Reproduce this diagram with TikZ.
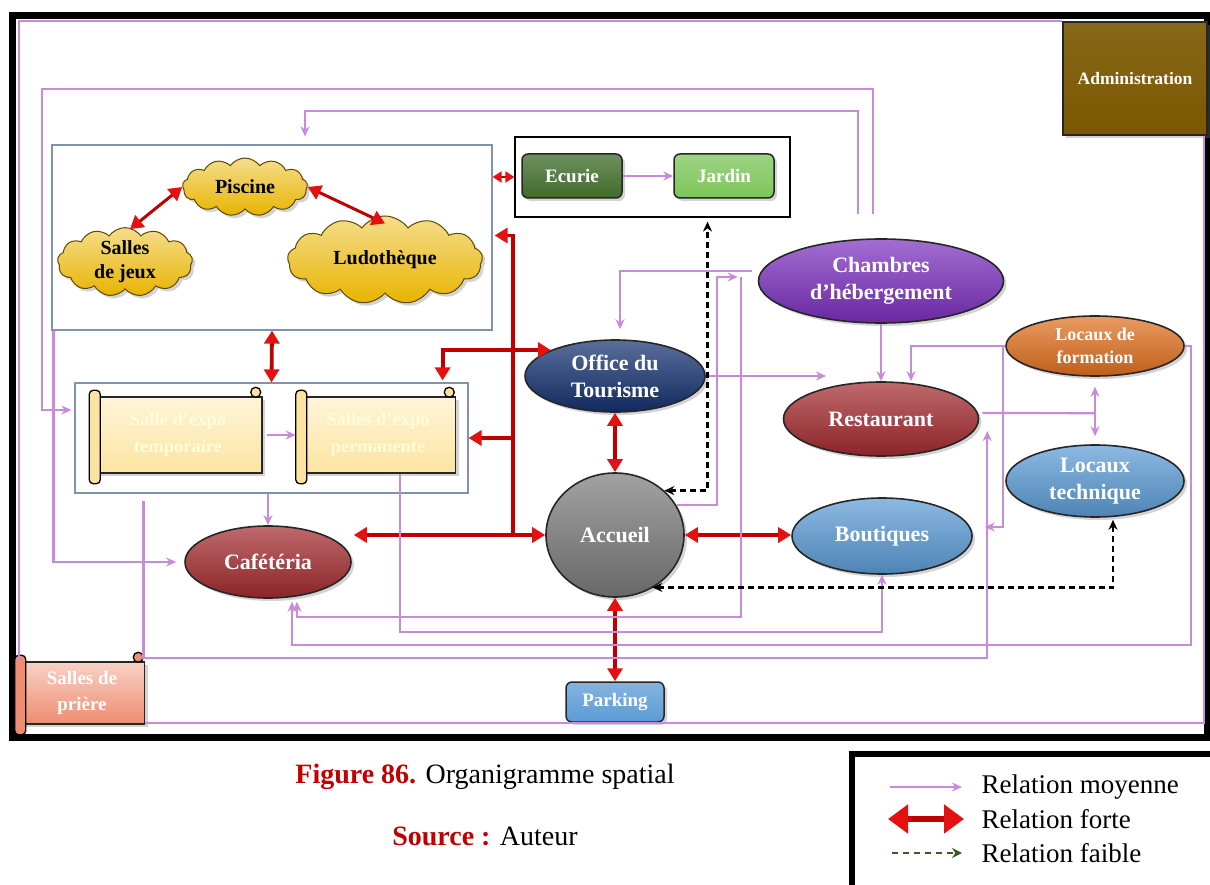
\documentclass[tikz,border=0pt]{standalone}
\usepackage{fontspec}
\setmainfont{Liberation Serif}
\usetikzlibrary{positioning,arrows.meta,calc,shapes.geometric,shapes.symbols,shadows}

\definecolor{moyc}{HTML}{C98BD9}
\definecolor{fortc}{HTML}{C00000}
\definecolor{flech}{HTML}{E51010}
\definecolor{grpc}{HTML}{7F93AD}
\definecolor{adminc}{HTML}{7A5700}
\definecolor{ecuriec}{HTML}{3E6B2A}
\definecolor{jardinc}{HTML}{7DC55A}
\definecolor{officec}{HTML}{13306F}
\definecolor{accueilc}{HTML}{7A7A7A}
\definecolor{rougec}{HTML}{A32A2E}
\definecolor{chambrec}{HTML}{7B2FBE}
\definecolor{orangec}{HTML}{E0701E}
\definecolor{bleuc}{HTML}{5B9BD5}
\definecolor{expoc}{HTML}{FCE4A0}
\definecolor{prierec}{HTML}{EE8C70}
\definecolor{nuagec}{HTML}{E8B400}
\definecolor{titrec}{HTML}{C00000}
\definecolor{faiblec}{HTML}{3A5A28}

\tikzset{
  moy/.style={draw=moyc, line width=2.2pt, -{Stealth[length=10pt,width=9pt]}},
  lien/.style={draw=moyc, line width=2.2pt},
  frt/.style={draw=fortc, line width=3.8pt, {Triangle[length=13pt,width=15pt,color=flech]}-{Triangle[length=13pt,width=15pt,color=flech]}},
  frtun/.style={draw=fortc, line width=3.8pt, -{Triangle[length=13pt,width=15pt,color=flech]}},
  fbl/.style={draw=black, line width=2.4pt, dash pattern=on 6pt off 4pt, {Stealth[length=10pt,width=9pt]}-{Stealth[length=10pt,width=9pt]}},
  grp/.style={draw=grpc, line width=1.2pt},
  ell/.style={ellipse, draw=black!85, line width=1.6pt, inner sep=0pt, align=center, text=white,
    font=\bfseries\fontsize{22}{27}\selectfont, top color=#1!70!white, bottom color=#1!85!black,
    drop shadow={opacity=0.35, shadow xshift=3pt, shadow yshift=-3pt}},
  btn/.style={rectangle, rounded corners=6pt, draw=black!85, line width=1.5pt, text=white,
    top color=#1!75!white, bottom color=#1, font=\bfseries\fontsize{19}{20}\selectfont,
    drop shadow={opacity=0.35, shadow xshift=3pt, shadow yshift=-3pt}},
  nua/.style={cloud, cloud puffs=13, cloud puff arc=110, cloud ignores aspect, draw=black!60!nuagec, line width=1pt,
    top color=nuagec!45!white, bottom color=nuagec, inner sep=0pt, align=center,
    font=\bfseries\fontsize{20}{24}\selectfont, drop shadow={opacity=0.35, shadow xshift=3pt, shadow yshift=-3pt}},
  scr/.style={rectangle, draw=black!85, line width=1.5pt, top color=#1!40!white, bottom color=#1,
    align=center, text=white!85!yellow, font=\bfseries\fontsize{18.5}{27}\selectfont,
    drop shadow={opacity=0.35, shadow xshift=3pt, shadow yshift=-3pt}},
  leg/.style={anchor=west, font=\fontsize{27}{29}\selectfont},
}

\begin{document}
\begin{tikzpicture}[x=1pt,y=-1pt]
  \useasboundingbox (0,0) rectangle (1210,885);
  % cadre
  \draw[line width=7pt] (12,15.5) rectangle (1207,737.5);

  % groupes
  \node[grp, minimum width=440pt, minimum height=185pt] (loisirs) at (272,237.5) {};
  \node[grp, draw=black, minimum width=275pt, minimum height=80pt] (eq) at (652.5,177) {};
  \node[grp, minimum width=393pt, minimum height=110pt] (expo) at (271.5,438) {};

  % loisirs
  \node[nua, minimum width=125pt, minimum height=58pt] (piscine) at (245,187) {Piscine};
  \node[nua, minimum width=135pt, minimum height=62pt] (jeux) at (125,262) {Salles\\de jeux};
  \node[nua, minimum width=195pt, minimum height=88pt] (ludo) at (385,260) {Ludothèque};

  % equitation
  \node[btn=ecuriec, minimum width=100pt, minimum height=44pt] (ecurie) at (572,176) {Ecurie};
  \node[btn=jardinc, minimum width=100pt, minimum height=44pt] (jardin) at (724,176) {Jardin};

  % administration, parking
  \node[btn=adminc, rounded corners=0pt, top color=adminc!90!white, minimum width=144pt, minimum height=113pt,
    font=\bfseries\fontsize{17.5}{19}\selectfont] (admin) at (1135,78.5) {Administration};
  \node[btn=bleuc, minimum width=98pt, minimum height=40pt] (parking) at (615,702) {Parking};

  % espaces
  \node[ell=officec, minimum width=180pt, minimum height=72pt] (office) at (615,376) {Office du\\Tourisme};
  \node[ell=accueilc, minimum width=138pt, minimum height=124pt] (accueil) at (615,535) {Accueil};
  \node[ell=rougec, minimum width=166pt, minimum height=72pt] (cafe) at (268,562) {Cafétéria};
  \node[ell=chambrec, minimum width=245pt, minimum height=84pt] (chambres) at (881,281) {Chambres\\d’hébergement};
  \node[ell=rougec, minimum width=195pt, minimum height=74pt] (restaurant) at (881,419) {Restaurant};
  \node[ell=orangec, minimum width=178pt, minimum height=60pt, font=\bfseries\fontsize{18}{23}\selectfont] (formation) at (1095,346) {Locaux de\\formation};
  \node[ell=bleuc, minimum width=178pt, minimum height=72pt] (technique) at (1095,481) {Locaux\\technique};
  \node[ell=bleuc, minimum width=180pt, minimum height=76pt] (boutiques) at (882,536) {Boutiques};

  % rouleaux
  \node[scr=expoc, minimum width=168pt, minimum height=76pt] (temp) at (178,435) {Salle d’expo\\temporaire};
  \node[scr=expoc, minimum width=155pt, minimum height=76pt] (perm) at (378,435) {Salles d’expo\\permanente};
  \node[scr=prierec, text=white, minimum width=125pt, minimum height=62pt, font=\bfseries\fontsize{19}{26}\selectfont] (priere) at (82,693) {Salles de\\prière};
  \foreach \s/\c in {temp/expoc, perm/expoc, priere/prierec}{
    \draw[line width=1.3pt, fill=\c, rounded corners=4pt] ($(\s.north west)+(-4,-6)$) rectangle ($(\s.south west)+(7,10)$);
    \draw[line width=1.3pt, fill=\c] ($(\s.north east)+(-7,-4)$) circle (5);
  }

  % relations fortes
  \draw[frt, line width=3pt] ($(jeux.north)+(5,2)$) -- (piscine.west);
  \draw[frt, line width=3pt] (piscine.east) -- ($(ludo.north)+(0,8)$);
  \draw[frt, line width=2pt, {Triangle[length=9pt,width=11pt,color=flech]}-{Triangle[length=9pt,width=11pt,color=flech]}] (loisirs.east |- eq.west) -- (eq.west);
  \draw[frt] (loisirs.south) -- (expo.north);
  \draw[frt] ($(cafe.east)+(2,-27)$) -- (accueil.west);
  \coordinate (tronc) at ($(accueil.west)+(-32,0)$);
  \draw[frtun] (tronc) |- ($(loisirs.east)+(2,-2)$);
  \draw[frtun] (tronc |- expo.east) -- (expo.east);
  \draw[frt] ($(expo.north east)+(-26,-2)$) |- (office.north west);
  \draw[frt] (office.south) -- (accueil.north);
  \draw[frt] (accueil.east) -- (accueil.east -| boutiques.west);
  \draw[frt] (accueil.south) -- (parking.north);

  % relations moyennes
  \draw[moy] ($(chambres.north)+(-8,-24)$) -- ++(0,-125) -| (42,250) |- ($(expo.west)+(-3,-28)$);
  \draw[moy] ($(chambres.north)+(-23,-24)$) -- ++(0,-103) -| ($(loisirs.north)+(33,-8)$);
  \draw[moy] ($(loisirs.south west)+(2,0)$) |- ($(cafe.west)+(-8,0)$);
  \draw[moy] (expo.south -| cafe.north) -- (cafe.north);
  \draw[moy] ($(temp.east)+(4,0)$) -- ($(perm.west)+(-4,0)$);
  \draw[moy] (ecurie.east) -- (jardin.west);
  \draw[moy] ($(chambres.west)+(-6,-10)$) -| ($(office.north)+(5,-10)$);
  \draw[moy] ($(accueil.east)+(-8,-30)$) -- ++(40,0) |- ($(chambres.west)+(-20,-4)$);
  \draw[moy] ($(chambres.west)+(-17,-4)$) -- ++(0,340) -| ($(cafe.south)+(29,3)$);
  \draw[moy] ($(perm.south)+(22,0)$) -- ++(0,158) -| (boutiques.south);
  \draw[moy] (formation.east) -| ++(6,299) -| ($(cafe.south)+(24,3)$);
  \draw[moy] ($(expo.south west)+(69,7)$) -- ++(0,157) -| ($(restaurant.east)+(8,12)$);
  \coordinate (rnw) at ($(restaurant.north)+(-55,0)$);
  \draw[moy] (office.east) -- (office.east -| rnw);
  \draw[moy] (chambres.south) -- (restaurant.north);
  \draw[moy] (formation.west) -| ($(restaurant.north)+(30,0)$);
  \draw[moy] (formation.west) -- ++(-2,0) |- ($(boutiques.east)+(12,-9)$);
  \draw[moy, {Stealth[length=10pt,width=9pt]}-{Stealth[length=10pt,width=9pt]}] ($(formation.south)+(0,10)$) -- ($(technique.north)+(0,-8)$);
  \coordinate (ft) at ($(formation.south)!0.54!(technique.north)$);
  \draw[lien] ($(restaurant.east)+(3,-6)$) -- (ft);
  \draw[lien] (admin.north west) -| (priere.north west);
  \draw[lien] ($(admin.south east)+(-4,0)$) |- ($(priere.south east)+(0,-2)$);

  % relations faibles
  \draw[fbl] (accueil.north east) -| ($(eq.south)+(55,4)$);
  \draw[fbl] ($(accueil.south east)+(-12,8)$) -| ($(technique.south)+(18,2)$);

  % legende
  \node[draw=black, line width=6pt, minimum width=362pt, minimum height=136pt] (legende) at (1033,822) {};
  \node[leg] (lmoy) at (978,787) {Relation moyenne};
  \node[leg] (lfrt) at (978,819) {Relation forte};
  \node[leg] (lfbl) at (978,853) {Relation faible};
  \draw[moy] ($(lmoy.west)+(-88,0)$) -- ($(lmoy.west)+(-16,0)$);
  \draw[draw=fortc, line width=6pt, {Triangle[length=20pt,width=28pt,color=flech]}-{Triangle[length=20pt,width=28pt,color=flech]}] ($(lfrt.west)+(-90,0)$) -- ($(lfrt.west)+(-14,0)$);
  \draw[draw=faiblec, line width=2.4pt, dash pattern=on 6pt off 5pt, -{Stealth[length=10pt,width=10pt]}] ($(lfbl.west)+(-86,0)$) -- ($(lfbl.west)+(-16,0)$);

  % titre
  \node[font=\fontsize{28}{30}\selectfont] (titre) at (485,777) {\textcolor{titrec}{\bfseries Figure 86.} Organigramme spatial};
  \node[font=\fontsize{28}{30}\selectfont] (source) at (485,836) {\textcolor{titrec}{\bfseries Source :} Auteur};
\end{tikzpicture}
\end{document}
